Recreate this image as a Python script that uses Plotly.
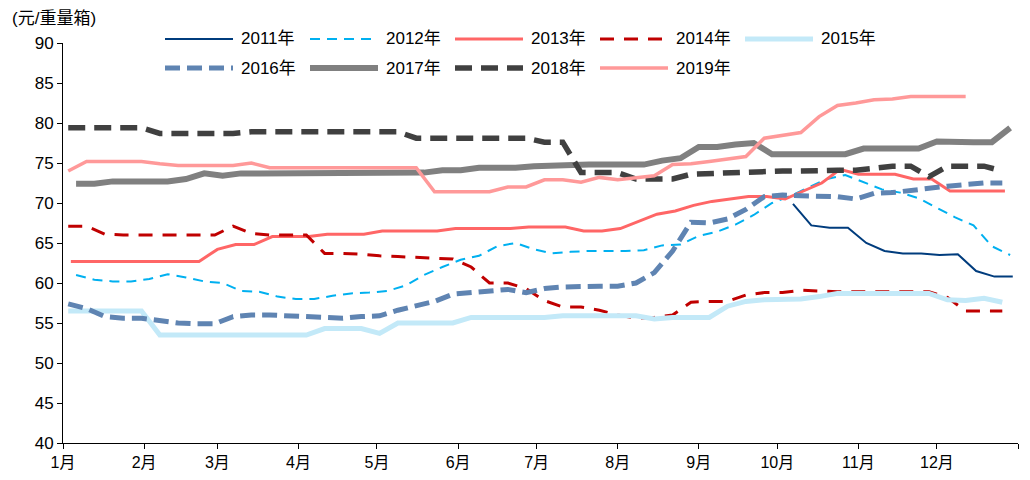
import pandas as pd
import plotly.graph_objects as go

# ---- axis ticks ----
month_ticks = ["2019-01-01", "2019-02-01", "2019-03-01", "2019-04-01", "2019-05-01", "2019-06-01",
               "2019-07-01", "2019-08-01", "2019-09-01", "2019-10-01", "2019-11-01", "2019-12-01",
               "2020-01-01"]
month_labels = ["1月", "2月", "3月", "4月", "5月", "6月", "7月", "8月", "9月", "10月", "11月", "12月", ""]

# ---- weekly series (first observation date mapped onto a common year) ----
start_2011 = "2019-10-07"
v2011 = [69.9, 67.2, 66.9, 66.9, 65.0, 64.0, 63.7, 63.7, 63.5, 63.6, 61.5, 60.8, 60.8]

start_2012 = "2019-01-06"
v2012 = [61.0, 60.4, 60.2, 60.2, 60.5, 61.1, 60.7, 60.2, 60.0, 59.0,
         58.9, 58.3, 58.0, 58.0, 58.4, 58.7, 58.8, 59.0, 59.7, 61.0,
         62.0, 62.9, 63.4, 64.6, 65.0, 64.2, 63.7, 63.9, 64.0, 64.0,
         64.0, 64.1, 64.7, 64.8, 65.9, 66.4, 67.3, 68.5, 70.0, 70.9,
         72.0, 73.0, 73.5, 72.6, 71.7, 71.3, 70.6, 69.4, 68.2, 67.2,
         64.6, 63.5]

start_2013 = "2019-01-04"
v2013 = [62.7, 62.7, 62.7, 62.7, 62.7, 62.7, 62.7, 62.7, 64.2, 64.8,
         64.8, 65.8, 65.8, 65.8, 66.1, 66.1, 66.1, 66.5, 66.5, 66.5,
         66.5, 66.8, 66.8, 66.8, 66.8, 67.0, 67.0, 67.0, 66.5, 66.5,
         66.8, 67.7, 68.6, 69.0, 69.7, 70.2, 70.5, 70.8, 70.8, 70.5,
         71.5, 72.5, 74.2, 73.6, 73.6, 73.6, 73.0, 73.0, 71.5, 71.5,
         71.5, 71.5]

start_2014 = "2019-01-03"
v2014 = [67.1, 67.1, 66.1, 66.0, 66.0, 66.0, 66.0, 66.0, 66.0, 67.1,
         66.2, 66.0, 66.0, 66.0, 63.7, 63.7, 63.6, 63.4, 63.3, 63.2,
         63.1, 63.0, 62.0, 60.0, 60.0, 59.3, 57.8, 57.0, 57.0, 56.6,
         56.0, 55.6, 55.7, 56.0, 57.6, 57.7, 57.7, 58.5, 58.8, 58.8,
         59.1, 59.0, 58.9, 58.9, 58.9, 58.9, 58.9, 58.9, 58.2, 56.5,
         56.5, 56.5]

start_2015 = "2019-01-03"
v2015 = [56.5, 56.5, 56.5, 56.5, 56.5, 53.5, 53.5, 53.5, 53.5, 53.5,
         53.5, 53.5, 53.5, 53.5, 54.3, 54.3, 54.3, 53.7, 55.0, 55.0,
         55.0, 55.0, 55.7, 55.7, 55.7, 55.7, 55.7, 55.9, 55.9, 55.9,
         55.9, 55.9, 55.5, 55.7, 55.7, 55.7, 57.1, 57.7, 57.9, 58.0,
         58.0, 58.3, 58.7, 58.7, 58.7, 58.7, 58.7, 58.7, 57.9, 57.8,
         58.1, 57.6]

start_2016 = "2019-01-03"
v2016 = [57.4, 56.8, 55.8, 55.6, 55.6, 55.3, 55.0, 54.9, 54.9, 55.8,
         56.0, 56.0, 55.9, 55.8, 55.7, 55.6, 55.8, 55.9, 56.6, 57.2,
         57.7, 58.6, 58.8, 59.0, 59.2, 58.8, 59.3, 59.5, 59.6, 59.6,
         59.6, 60.0, 61.3, 64.0, 67.6, 67.5, 68.0, 69.2, 70.8, 71.0,
         70.9, 70.9, 70.8, 70.5, 71.2, 71.3, 71.6, 71.9, 72.1, 72.3,
         72.5, 72.5]

start_2017 = "2019-01-06"
v2017 = [72.4, 72.4, 72.7, 72.7, 72.7, 72.7, 73.0, 73.7, 73.4, 73.7,
         73.7, 73.7, 73.8, 73.8, 73.8, 73.8, 73.8, 73.8, 73.8, 73.8,
         74.1, 74.1, 74.4, 74.4, 74.4, 74.6, 74.7, 74.8, 74.8, 74.8,
         74.8, 74.8, 75.3, 75.6, 77.0, 77.0, 77.3, 77.5, 76.1, 76.1,
         76.1, 76.1, 76.1, 76.8, 76.8, 76.8, 76.8, 77.7, 77.6, 77.6,
         77.6, 79.4]

start_2018 = "2019-01-03"
v2018 = [79.4, 79.4, 79.4, 79.4, 79.4, 78.7, 78.7, 78.7, 78.7, 78.7,
         78.9, 78.9, 78.9, 78.9, 78.9, 78.9, 78.9, 78.9, 78.9, 78.1,
         78.1, 78.1, 78.1, 78.1, 78.1, 78.1, 77.6, 77.6, 73.8, 73.8,
         73.8, 73.0, 73.0, 73.0, 73.6, 73.7, 73.8, 73.9, 74.0, 74.0,
         74.0, 74.1, 74.1, 74.1, 74.4, 74.6, 74.6, 73.3, 74.6, 74.6,
         74.6, 74.0]

start_2019 = "2019-01-03"
v2019 = [74.0, 75.2, 75.2, 75.2, 75.2, 74.9, 74.7, 74.7, 74.7, 74.7,
         75.0, 74.4, 74.4, 74.4, 74.4, 74.4, 74.4, 74.4, 74.4, 74.4,
         71.4, 71.4, 71.4, 71.4, 72.0, 72.0, 72.9, 72.9, 72.6, 73.2,
         72.9, 73.2, 73.4, 74.8, 74.9, 75.2, 75.5, 75.8, 78.1, 78.5,
         78.8, 80.8, 82.2, 82.5, 82.9, 83.0, 83.3, 83.3, 83.3, 83.3]

series = [
    ("2011年", start_2011, v2011, "#003C7D", 2.0, "solid"),
    ("2012年", start_2012, v2012, "#00B0F0", 2.0, "10px,7px"),
    ("2013年", start_2013, v2013, "#FF6666", 3.0, "solid"),
    ("2014年", start_2014, v2014, "#C00000", 3.0, "14px,10px"),
    ("2015年", start_2015, v2015, "#C3E9F8", 5.0, "solid"),
    ("2016年", start_2016, v2016, "#5F84B2", 5.0, "15px,7px"),
    ("2017年", start_2017, v2017, "#808080", 6.0, "solid"),
    ("2018年", start_2018, v2018, "#404040", 5.5, "17px,9px"),
    ("2019年", start_2019, v2019, "#FF9999", 3.5, "solid"),
]

FONT = "Liberation Sans, Arial, Noto Sans CJK SC, sans-serif"

# The page body has an 8px default margin, so the figure is sized to fit
# inside the 1030x480 window.
PAGE_OFF = 8
W, H = 1030 - PAGE_OFF, 480 - PAGE_OFF
ML, MR, MT, MB = 55, 12, 35, 37
PW, PH = W - ML - MR, H - MT - MB


def px_x(x):
    """page pixel x -> paper coordinate"""
    return (x - PAGE_OFF - ML) / PW


def px_y(y):
    """page pixel y -> paper coordinate"""
    return (H - MB - (y - PAGE_OFF)) / PH


fig = go.Figure()
shapes, annotations = [], []
for i, (name, start, vals, color, width, dash) in enumerate(series):
    dates = pd.date_range(start, periods=len(vals), freq="7D")
    fig.add_trace(go.Scatter(
        x=dates, y=vals, name=name, mode="lines",
        line=dict(color=color, width=width, dash=dash),
        showlegend=False, hoverinfo="x+y+name",
    ))
    row, col = divmod(i, 5)
    x0 = 165 + 145 * col
    yy = 39 + 29 * row
    shapes.append(dict(type="line", xref="paper", yref="paper",
                       x0=px_x(x0), x1=px_x(x0 + 68), y0=px_y(yy), y1=px_y(yy),
                       line=dict(color=color, width=width, dash=dash)))
    annotations.append(dict(text=name, xref="paper", yref="paper",
                            x=px_x(x0 + 74), y=px_y(yy), xanchor="left", yanchor="middle",
                            showarrow=False, font=dict(family=FONT, size=17, color="black")))

annotations.append(dict(text="(元/重量箱)", xref="paper", yref="paper",
                        x=px_x(10), y=px_y(18), xanchor="left", yanchor="middle",
                        showarrow=False, font=dict(family=FONT, size=17, color="black")))

fig.update_layout(
    width=W, height=H,
    margin=dict(l=ML, r=MR, t=MT, b=MB, autoexpand=False),
    paper_bgcolor="white", plot_bgcolor="white",
    font=dict(family=FONT, size=16, color="black"),
    showlegend=False,
    xaxis=dict(type="date", range=["2019-01-01", "2020-01-01"],
               tickmode="array", tickvals=month_ticks, ticktext=month_labels,
               ticks="outside", ticklen=5, tickcolor="black", tickwidth=1,
               showline=True, linecolor="black", linewidth=1,
               showgrid=False, zeroline=False, automargin=False,
               tickfont=dict(family=FONT, size=16, color="black")),
    yaxis=dict(range=[40, 90], tick0=40, dtick=5,
               ticks="outside", ticklen=5, tickcolor="black", tickwidth=1,
               showline=True, linecolor="black", linewidth=1,
               showgrid=False, zeroline=False, automargin=False,
               tickfont=dict(family=FONT, size=17, color="black")),
    shapes=shapes,
    annotations=annotations,
)

fig.write_html("out.html")
